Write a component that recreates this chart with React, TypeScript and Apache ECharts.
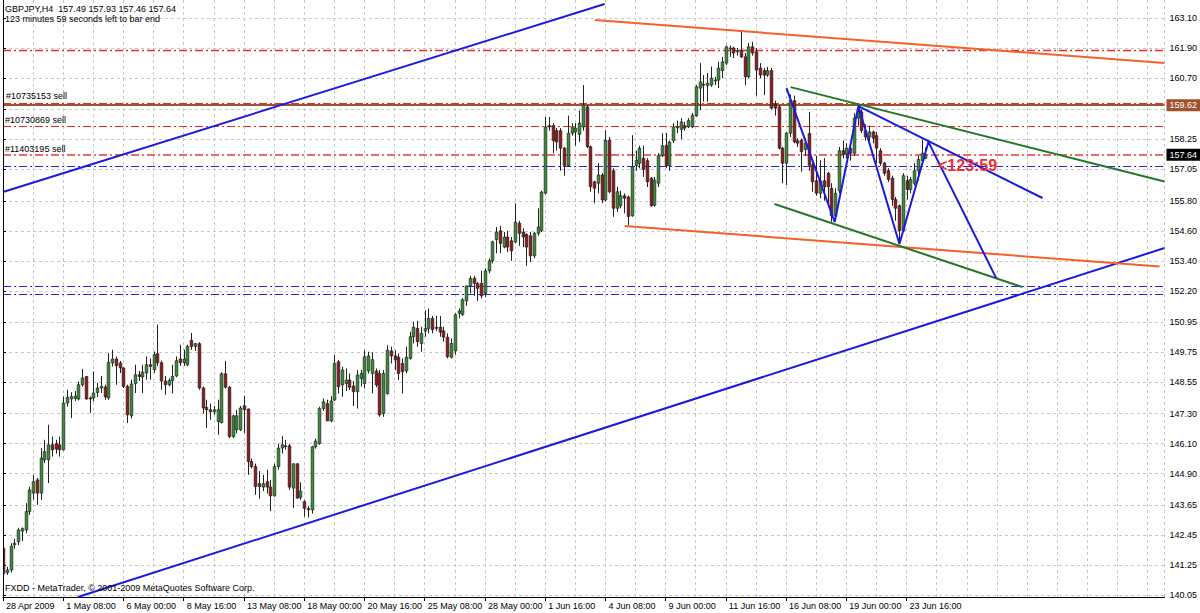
import React, { useEffect, useRef } from 'react';
import * as echarts from 'echarts';

// ---- candles: [open, high, low, close], H4 bars from 28 Apr 2009 16:00 ----
const bars: number[][] = [
  [141.92,142.00,140.60,140.90],[140.95,141.18,140.85,141.05],[141.05,142.12,140.95,142.00],[142.05,142.30,141.90,142.12],
  [142.18,142.72,142.05,142.65],[142.60,142.75,142.20,142.70],[142.65,143.72,142.52,143.38],[143.38,144.38,143.25,144.25],
  [144.12,144.85,143.85,144.58],[144.65,144.72,143.65,144.12],[144.12,145.92,143.85,145.52],[145.45,146.25,145.32,145.78],
  [145.45,146.85,144.52,146.05],[146.05,146.38,145.58,145.85],[146.10,146.25,145.70,145.88],[146.05,146.38,145.58,145.85],
  [145.85,147.98,145.82,147.72],[147.72,148.25,147.58,147.94],[147.88,148.15,147.12,147.98],[147.90,148.20,147.80,148.00],
  [147.88,148.58,147.82,148.45],[148.45,149.08,148.38,148.72],[148.78,148.80,147.85,147.88],[147.92,147.98,147.32,147.88],
  [147.92,148.98,147.78,148.12],[148.14,148.52,147.96,148.32],[148.32,148.80,148.12,148.38],[148.36,148.45,147.85,147.96],
  [147.92,149.72,147.85,149.34],[149.32,149.85,149.18,149.48],[149.48,149.58,148.45,149.21],[149.32,149.40,148.92,149.12],
  [149.12,149.15,148.32,148.38],[148.38,148.45,146.92,147.25],[147.21,148.65,147.10,148.48],[148.49,149.25,148.12,148.85],
  [148.85,149.00,148.60,148.78],[148.76,149.25,148.12,148.95],[148.92,149.58,148.65,149.25],[149.25,149.50,148.65,149.18],
  [149.05,149.78,148.92,149.65],[149.69,150.85,149.20,149.33],[149.33,149.41,148.25,148.60],[148.60,148.80,148.05,148.45],
  [148.45,148.70,148.38,148.62],[148.62,149.25,148.10,148.78],[148.80,149.58,148.75,149.41],[149.48,150.05,149.20,149.33],
  [149.33,149.85,149.20,149.48],[149.25,150.05,149.20,149.98],[150.22,150.52,149.85,149.98],[149.98,150.12,149.80,150.09],
  [150.09,150.15,148.25,148.32],[148.32,148.38,147.30,147.52],[147.54,147.85,146.72,147.45],[147.45,147.70,147.05,147.37],
  [147.37,147.60,147.25,147.45],[146.98,147.85,146.45,147.45],[146.94,148.95,146.90,148.89],[148.89,149.40,148.30,148.35],
  [148.35,148.40,146.32,146.38],[146.38,147.25,146.32,147.21],[146.65,147.45,146.50,147.21],[146.65,147.60,146.60,147.52],
  [147.61,148.01,146.52,147.45],[147.48,147.50,144.85,145.38],[145.38,145.50,145.10,145.18],[145.18,145.30,144.05,144.38],
  [144.50,145.00,143.90,144.38],[144.36,144.85,144.20,144.50],[144.58,145.05,144.10,144.36],[144.36,144.65,143.40,144.01],
  [144.01,145.30,143.98,145.18],[145.18,146.10,145.05,145.92],[145.92,146.40,145.70,146.05],[146.01,146.25,145.85,146.00],
  [146.01,146.10,144.25,144.36],[144.32,145.30,143.52,145.29],[145.29,145.32,143.90,143.92],[143.95,144.55,143.85,144.20],
  [143.78,143.84,143.18,143.51],[143.50,143.60,143.15,143.45],[143.45,146.00,143.30,145.97],[145.97,146.30,145.90,146.20],
  [146.10,147.57,146.05,147.50],[147.50,147.90,147.40,147.77],[147.70,147.85,147.00,147.00],[147.00,148.00,146.95,147.80],
  [147.84,149.63,147.80,149.30],[149.37,149.44,148.10,148.37],[148.44,149.17,147.97,149.04],[148.50,149.10,148.20,148.64],
  [148.64,148.90,148.24,148.35],[148.40,148.60,147.60,148.17],[148.17,149.04,147.50,148.84],[148.70,149.04,148.37,148.90],
  [148.50,149.83,148.30,149.57],[149.00,149.77,148.90,149.60],[148.90,149.75,148.10,149.45],[149.00,149.10,148.35,148.44],
  [148.90,149.04,147.17,147.24],[147.30,149.04,147.17,148.90],[148.10,150.03,148.05,149.83],[149.80,149.97,149.30,149.60],
  [149.60,149.83,149.04,149.45],[149.55,149.70,148.64,148.90],[149.30,149.50,148.10,148.97],[149.00,149.97,148.90,149.55],
  [149.50,150.57,149.45,150.37],[150.37,150.97,150.10,150.75],[150.70,151.00,149.97,150.17],[150.10,150.77,149.77,150.50],
  [150.60,151.43,150.37,150.70],[150.70,151.50,150.50,151.10],[151.10,151.20,150.50,150.65],[150.70,151.20,150.60,150.75],
  [150.75,151.20,150.37,150.55],[150.60,150.77,150.17,150.35],[150.35,150.50,149.50,149.57],[149.55,150.30,149.50,150.10],
  [149.80,151.30,149.65,151.25],[151.30,151.50,151.10,151.40],[151.25,151.90,151.20,151.85],[151.80,152.40,151.60,152.40],
  [152.40,152.80,152.10,152.70],[152.70,152.80,152.00,152.50],[152.50,152.55,151.80,152.30],[152.50,153.00,151.90,152.00],
  [152.10,153.10,151.95,153.00],[153.00,153.50,152.90,153.40],[153.40,154.20,153.30,154.16],[154.25,154.75,153.70,154.55],
  [154.60,154.80,153.70,154.10],[153.95,154.55,153.90,154.35],[154.35,154.60,153.75,153.95],[154.20,154.35,153.40,153.80],
  [154.15,155.70,154.10,154.95],[154.90,155.00,154.00,154.50],[154.55,154.70,153.95,154.35],[154.45,154.50,153.20,153.95],
  [154.40,154.55,153.35,153.60],[153.60,154.55,153.50,154.50],[154.50,155.50,154.40,154.75],[154.60,156.20,154.55,156.15],
  [156.10,159.15,156.05,158.75],[158.80,159.15,158.60,158.75],[158.80,158.90,157.70,158.20],[158.60,158.70,157.80,158.15],
  [158.60,158.70,157.00,157.90],[157.90,157.95,156.80,157.20],[157.20,159.20,157.15,158.50],[158.50,158.90,158.40,158.75],
  [158.55,158.90,158.00,158.70],[158.45,159.40,158.15,158.90],[158.75,160.42,158.60,159.62],[159.55,159.62,157.90,157.96],
  [157.96,158.00,156.16,156.36],[156.56,156.60,155.70,156.30],[156.50,157.30,156.10,156.83],[156.83,156.90,155.70,155.83],
  [155.83,158.62,155.77,158.22],[158.22,158.35,156.10,156.16],[157.00,157.10,155.16,155.50],[155.50,156.36,155.35,156.16],
  [155.60,156.20,155.50,156.00],[156.00,156.10,155.30,155.90],[155.95,156.00,154.83,155.17],[155.20,158.42,155.16,157.16],
  [157.20,157.80,157.00,157.42],[157.30,158.00,157.10,157.90],[157.50,158.00,156.75,157.05],[157.40,157.50,156.35,156.56],
  [156.70,156.75,155.56,155.60],[155.62,156.75,155.56,156.62],[156.50,157.70,156.35,157.60],[157.60,158.50,157.55,158.00],
  [158.00,158.50,157.10,157.20],[157.20,158.20,157.00,158.15],[158.20,158.90,158.10,158.75],[158.75,159.00,158.50,158.75],
  [158.65,159.10,158.25,158.95],[158.80,158.95,158.60,158.70],[158.75,159.10,158.70,159.00],[158.75,159.30,158.70,159.22],
  [159.20,160.42,159.15,160.35],[160.30,161.30,159.42,160.55],[160.45,160.82,159.76,160.42],[160.40,160.90,159.76,160.50],
  [160.42,161.16,160.35,160.70],[160.60,160.75,160.42,160.62],[160.62,161.35,160.30,161.10],[161.00,161.55,160.70,161.35],
  [161.30,162.00,161.22,161.95],[161.90,162.00,161.55,161.90],[161.90,161.95,161.50,161.70],[161.75,161.90,161.60,161.80],
  [161.82,162.62,161.50,161.55],[161.55,161.70,160.42,160.75],[160.75,162.10,160.70,161.95],[161.95,162.15,161.60,161.70],
  [161.75,161.90,160.00,161.02],[161.10,161.30,160.70,160.82],[161.00,161.10,160.02,160.82],[160.82,161.15,160.75,161.00],
  [161.00,161.10,159.45,159.50],[159.65,159.80,159.20,159.50],[159.55,159.62,157.85,157.90],[157.90,157.95,156.50,157.30],
  [157.30,158.55,156.42,158.50],[158.50,160.05,158.35,159.82],[159.80,160.00,158.10,158.15],[158.20,158.30,157.95,158.10],
  [158.22,158.29,156.96,157.76],[157.85,158.30,157.60,158.10],[158.49,159.35,157.00,157.22],[157.22,157.30,156.16,156.56],
  [156.60,157.60,156.00,156.10],[156.10,157.42,155.90,156.60],[156.60,157.50,155.80,156.36],[156.90,156.95,155.62,156.36],
  [156.30,156.50,154.96,155.20],[155.20,156.30,155.10,156.10],[156.20,157.95,156.10,157.80],[157.80,158.20,157.50,157.65],
  [157.65,158.10,157.50,157.90],[157.90,158.10,157.40,157.70],[157.70,159.30,157.60,159.10],[159.10,159.62,158.80,159.35],
  [159.35,159.45,158.50,158.60],[158.60,158.85,158.20,158.35],[158.35,158.80,158.20,158.55],[158.55,158.60,158.10,158.30],
  [158.40,158.55,157.30,157.90],[157.80,157.90,157.20,157.30],[157.30,157.35,156.80,156.90],[157.00,157.10,156.55,156.65],
  [156.70,156.80,155.60,155.85],[155.85,155.95,155.00,155.50],[155.60,155.65,154.10,154.60],[154.60,156.90,154.55,156.80],
  [156.60,156.80,155.85,156.25],[156.25,156.75,156.10,156.65],[156.50,157.30,156.40,157.00],[157.00,157.60,156.60,157.45],
  [157.40,158.23,157.25,157.70],[157.49,157.93,157.46,157.64],
];

// ---- time axis labels (bar index -> text) ----
const xLabelBars = [0, 16, 32, 48, 64, 80, 96, 112, 128, 144, 160, 176, 192, 208, 224, 240];
const xLabels = ['28 Apr 2009', '1 May 08:00', '6 May 00:00', '8 May 16:00', '13 May 08:00', '18 May 00:00',
  '20 May 16:00', '25 May 08:00', '28 May 00:00', '1 Jun 16:00', '4 Jun 08:00', '9 Jun 00:00',
  '11 Jun 16:00', '16 Jun 08:00', '19 Jun 00:00', '23 Jun 16:00'];

// ---- price axis: grid levels and the labels printed (159.45 is hidden behind the price box) ----
const yTicks = [163.10, 161.90, 160.70, 159.45, 158.25, 157.05, 155.80, 154.60, 153.40, 152.20,
  150.95, 149.75, 148.55, 147.30, 146.10, 144.90, 143.65, 142.45, 141.25, 140.05];
const yLabelValues = [163.10, 161.90, 160.70, 158.25, 157.05, 155.80, 154.60, 153.40, 152.20,
  150.95, 149.75, 148.55, 147.30, 146.10, 144.90, 143.65, 142.45, 141.25, 140.05];

// ---- horizontal levels ----
const topRedLevel = 161.82;
const brownLevel = 159.62;
const bidPrice = 157.64;
const orderNames = ['#10735153 sell', '#10730869 sell', '#11403195 sell'];
const orderPrices = [159.70, 158.76, 157.62];
const blueLevels = [157.17, 152.38, 152.08];

// ---- trend lines: [barIndex, price] ----
const blueUpperChannel = [[0, 156.15], [159.8, 163.66]];
const blueLowerChannel = [[19.9, 139.97], [308.5, 153.91]];
const orangeTop = [[157.2, 163.02], [308.5, 161.30]];
const orangeBottom = [[165.1, 154.79], [307.2, 153.17]];
const greenTop = [[209.2, 160.34], [308.5, 156.57]];
const greenBottom = [[204.9, 155.67], [270.8, 152.35]];
const blueZigzag = [[208.1, 160.30], [220.9, 154.95], [227.2, 159.58], [238.1, 154.07], [245.8, 158.15], [263.8, 152.71]];
const blueFromPeak = [[227.2, 159.58], [276.1, 155.91]];

const FONT = '"Liberation Sans", Arial, sans-serif';
const BULL = '#3A8A3A';
const BEAR = '#8E1B1B';
const BLUE = '#1A1AE0';
const LEVEL_BLUE = '#2222EE';
const ORANGE = '#F4622A';
const GREEN = '#24772A';
const RED = '#F02828';
const BROWN = '#A0522D';
const DASHDOT = [8, 3, 2, 3];
const GRID = '#C8C8C8';

function trend(data: number[][], color: string) {
  return {
    type: 'line', xAxisIndex: 0, yAxisIndex: 0, data, symbol: 'none', showSymbol: false,
    lineStyle: { color, width: 2 }, itemStyle: { color }, silent: true, z: 5, clip: true,
  };
}

function level(price: number, color: string, width: number, type: any, z: number, label?: any) {
  return {
    type: 'line', xAxisIndex: 0, yAxisIndex: 0, data: [], symbol: 'none', silent: true, z,
    itemStyle: { color },
    markLine: {
      silent: true, symbol: ['none', 'none'], animation: false, z,
      lineStyle: { color, width, type, opacity: 1 },
      label: label ? { show: true, fontFamily: FONT, fontSize: 9, ...label } : { show: false },
      data: [{ yAxis: price, lineStyle: { color, width, type } }],
    },
  };
}

function priceBox(price: number, bg: string) {
  return {
    position: 'end', distance: 2, formatter: price.toFixed(2), backgroundColor: bg,
    color: '#FFFFFF', padding: [2, 3, 1, 3],
  };
}

export default function App() {
  const ref = useRef<HTMLDivElement>(null);
  useEffect(() => {
    document.body.style.margin = '0';
    const chart = echarts.init(ref.current!, null, { renderer: 'svg', width: 1200, height: 613 });

    const levelSeries: any[] = [
      level(topRedLevel, RED, 1.3, DASHDOT, 2),
      ...blueLevels.map((p) => level(p, LEVEL_BLUE, 1.2, DASHDOT, 2)),
      level(orderPrices[0], RED, 1.2, DASHDOT, 2,
        { position: 'insideStartTop', distance: 3, formatter: orderNames[0], color: '#000' }),
      level(brownLevel, BROWN, 2, 'solid', 2, priceBox(brownLevel, BROWN)),
      level(orderPrices[1], RED, 1.2, DASHDOT, 2,
        { position: 'insideStartTop', distance: 2, formatter: orderNames[1], color: '#000' }),
      level(orderPrices[2], '#F06A6A', 2, DASHDOT, 2,
        { position: 'insideStartTop', distance: 2, formatter: orderNames[2], color: '#000' }),
      level(bidPrice, 'rgba(255,255,255,0)', 0.1, 'solid', 2, priceBox(bidPrice, '#000000')),
    ];

    const option: any = {
      animation: false,
      backgroundColor: '#FFFFFF',
      textStyle: { fontFamily: FONT },
      grid: { left: 3, right: 35, top: 0, bottom: 16, containLabel: false },
      xAxis: [
        {
          type: 'value', min: 0, max: 308.5, interval: 8, position: 'bottom', z: 0,
          axisLine: { show: false }, axisTick: { show: false }, axisLabel: { show: false },
          splitLine: { show: true, lineStyle: { color: GRID, width: 1, type: [3, 3] } },
        },
        {
          type: 'value', min: 0, max: 308.5, position: 'bottom',
          axisLine: { show: true, onZero: false, lineStyle: { color: '#000', width: 1 } },
          axisTick: { show: true, customValues: xLabelBars, length: 4, lineStyle: { color: '#000' } },
          axisLabel: {
            customValues: xLabelBars, align: 'left', margin: 4, padding: [0, 0, 0, 3],
            fontSize: 9, fontFamily: FONT, color: '#000',
            formatter: (v: number) => { const k = xLabelBars.indexOf(Math.round(v)); return k >= 0 ? xLabels[k] : ''; },
          },
          splitLine: { show: false },
        },
      ],
      yAxis: {
        type: 'value', position: 'right', min: 139.97, max: 163.82, scale: true, z: 0,
        axisLine: { show: true, lineStyle: { color: '#000', width: 1 } },
        axisTick: { show: true, customValues: yTicks, length: 3, lineStyle: { color: '#000' } },
        axisLabel: { customValues: yLabelValues, margin: 5, fontSize: 9, fontFamily: FONT, color: '#000',
          formatter: (v: number) => v.toFixed(2) },
        splitLine: { show: true, lineStyle: { color: GRID, width: 1, type: [3, 3] } },
      },
      series: [
        ...levelSeries,
        {
          type: 'custom', xAxisIndex: 0, yAxisIndex: 0, clip: true, z: 3, silent: true,
          data: bars.map((b, i) => [i, b[0], b[1], b[2], b[3]]),
          encode: { x: 0, y: [1, 2, 3, 4] },
          renderItem: (_p: any, api: any) => {
            const i = api.value(0);
            const o = api.value(1), h = api.value(2), l = api.value(3), c = api.value(4);
            const ph = api.coord([i, h]);
            const pl = api.coord([i, l]);
            const yo = api.coord([i, o])[1];
            const yc = api.coord([i, c])[1];
            const x = Math.round(ph[0]) + 0.5;
            const bw = api.size([1, 0])[0] * 0.72;
            const top = Math.min(yo, yc), bot = Math.max(yo, yc);
            return {
              type: 'group',
              children: [
                { type: 'line', shape: { x1: x, y1: ph[1], x2: x, y2: pl[1] }, style: { stroke: '#222', lineWidth: 1 } },
                { type: 'rect', shape: { x: x - bw / 2, y: top, width: bw, height: Math.max(bot - top, 0.8) },
                  style: { fill: c >= o ? BULL : BEAR, stroke: '#1a1a1a', lineWidth: 0.6 } },
              ],
            };
          },
        },
        trend(blueUpperChannel, BLUE),
        trend(blueLowerChannel, BLUE),
        trend(orangeTop, ORANGE),
        trend(orangeBottom, ORANGE),
        trend(greenTop, GREEN),
        trend(greenBottom, GREEN),
        trend(blueZigzag, BLUE),
        trend(blueFromPeak, BLUE),
      ],
      graphic: [
        { type: 'line', shape: { x1: 3.5, y1: 0, x2: 3.5, y2: 597 }, style: { stroke: '#000', lineWidth: 1 }, z: 10 },
        { type: 'text', left: 5, top: 4, z: 10,
          style: { text: 'GBPJPY,H4  157.49 157.93 157.46 157.64', fontSize: 9, fontFamily: FONT, fill: '#000' } },
        { type: 'text', left: 5, top: 14, z: 10,
          style: { text: '123 minutes 59 seconds left to bar end', fontSize: 9, fontFamily: FONT, fill: '#000' } },
        { type: 'text', left: 5, top: 583, z: 10,
          style: { text: 'FXDD - MetaTrader, \u00A9 2001-2009 MetaQuotes Software Corp.', fontSize: 9, fontFamily: FONT, fill: '#000' } },
        { type: 'text', left: 938, top: 157, z: 10,
          style: { text: '<123:59', fontSize: 16, fontWeight: 'bold', fontFamily: FONT, fill: '#F03030' } },
      ],
    };
    chart.setOption(option);
    return () => chart.dispose();
  }, []);
  return <div ref={ref} style={{ position: 'fixed', left: 0, top: 0, width: 1200, height: 613, background: '#fff' }} />;
}
